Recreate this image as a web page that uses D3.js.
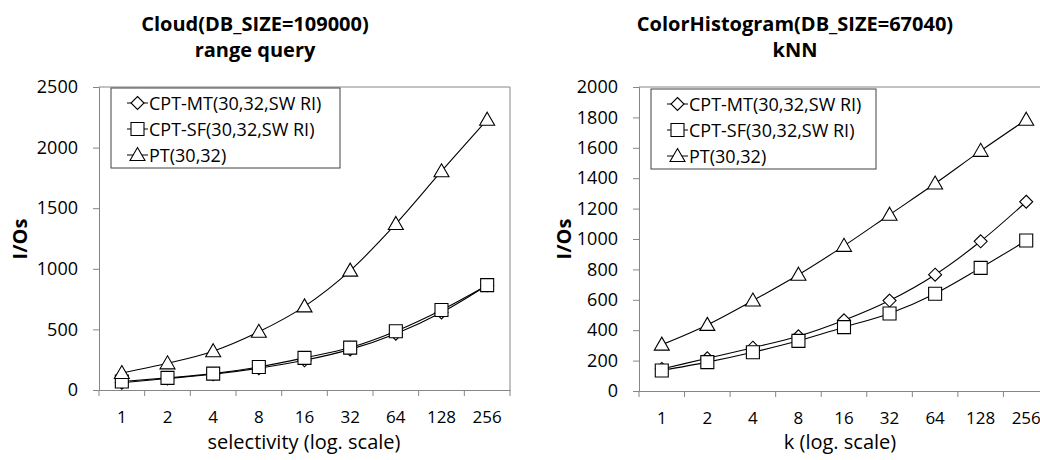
<!DOCTYPE html>
<html>
<head>
<meta charset="utf-8">
<script src="https://cdn.jsdelivr.net/npm/d3@7"></script>
<style>
  body { margin: 0; background: #fff; }
  svg { display: block; font-family: "Open Sans", sans-serif; }
</style>
</head>
<body>
<div id="chart"></div>
<script>
// x categories (log scale steps)
const categories = ['1', '2', '4', '8', '16', '32', '64', '128', '256'];
const seriesNames = ['CPT-MT(30,32,SW RI)', 'CPT-SF(30,32,SW RI)', 'PT(30,32)'];

// Cloud, range query
const cloudMT = [60, 95, 130, 180, 245, 335, 465, 640, 865];
const cloudSF = [70, 100, 135, 190, 265, 350, 485, 660, 865];
const cloudPT = [140, 220, 320, 480, 690, 985, 1370, 1805, 2230];
const cloudTicks = [0, 500, 1000, 1500, 2000, 2500];

// ColorHistogram, kNN
const colorMT = [145, 215, 285, 360, 465, 595, 765, 985, 1245];
const colorSF = [135, 190, 255, 330, 420, 510, 640, 810, 990];
const colorPT = [305, 435, 595, 765, 955, 1160, 1365, 1580, 1785];
const colorTicks = [0, 200, 400, 600, 800, 1000, 1200, 1400, 1600, 1800, 2000];

const width = 1040, height = 460;
const axisColor = '#868686';

const svg = d3.select('#chart').append('svg')
    .attr('width', width)
    .attr('height', height);

const markers = ['diamond', 'square', 'triangle'];

function drawMarker (g, type, cx, cy) {
    let path;
    if (type === 'diamond') {
        path = `M${cx},${cy - 6.5}L${cx + 6.5},${cy}L${cx},${cy + 6.5}L${cx - 6.5},${cy}Z`;
    } else if (type === 'square') {
        path = `M${cx - 6.5},${cy - 6.5}h13v13h-13Z`;
    } else {
        path = `M${cx},${cy - 7.5}L${cx + 7.5},${cy + 5.5}L${cx - 7.5},${cy + 5.5}Z`;
    }
    g.append('path')
        .attr('d', path)
        .attr('fill', '#fff')
        .attr('stroke', '#000')
        .attr('stroke-width', 1.1);
}

function drawChart (cfg) {
    const x = d3.scaleBand().domain(categories).range([cfg.left, cfg.right]).padding(0);
    const y = d3.scaleLinear().domain([0, cfg.yMax]).range([cfg.bottom, cfg.top]);
    const g = svg.append('g');

    // plot border (top/right)
    g.append('path')
        .attr('d', `M${cfg.left},${cfg.top}H${cfg.right}V${cfg.bottom}`)
        .attr('fill', 'none')
        .attr('stroke', axisColor)
        .attr('stroke-width', 1);

    // y axis
    const axisY = d3.axisLeft(y).tickValues(cfg.yTicks).tickFormat(d3.format('d'))
        .tickSize(6).tickPadding(15);
    const gy = g.append('g')
        .attr('transform', `translate(${cfg.left},0)`)
        .call(axisY);
    gy.select('.domain').attr('stroke', axisColor);
    gy.selectAll('.tick line').attr('stroke', axisColor);
    gy.selectAll('.tick text')
        .attr('font-size', 18)
        .attr('font-family', '"Open Sans", sans-serif')
        .attr('fill', '#000');

    // x axis: labels at band centres, ticks at band edges
    const axisX = d3.axisBottom(x).tickSize(0).tickPadding(21);
    const gx = g.append('g')
        .attr('transform', `translate(0,${cfg.bottom})`)
        .call(axisX);
    gx.select('.domain').attr('stroke', axisColor);
    gx.selectAll('.tick text')
        .attr('font-size', 17)
        .attr('font-family', '"Open Sans", sans-serif')
        .attr('fill', '#000');
    gx.selectAll('.edge')
        .data([cfg.left].concat(categories.slice(1).map(c => x(c)), [cfg.right]))
        .join('line')
        .attr('class', 'edge')
        .attr('x1', d => d).attr('x2', d => d)
        .attr('y1', 0).attr('y2', 6)
        .attr('stroke', axisColor);

    // series lines + markers
    const line = d3.line()
        .x((d, i) => x(categories[i]) + x.bandwidth() / 2)
        .y(d => y(d))
        .curve(d3.curveMonotoneX);
    cfg.series.forEach(values => {
        g.append('path')
            .datum(values)
            .attr('d', line)
            .attr('fill', 'none')
            .attr('stroke', '#000')
            .attr('stroke-width', 1.1);
    });
    cfg.series.forEach((values, s) => {
        const mg = g.append('g');
        values.forEach((v, i) => {
            drawMarker(mg, markers[s], x(categories[i]) + x.bandwidth() / 2, y(v));
        });
    });

    // titles
    g.append('text')
        .attr('x', cfg.titleX).attr('y', 31)
        .attr('text-anchor', 'middle')
        .attr('font-size', 20).attr('font-weight', 'bold')
        .text(cfg.title[0]);
    g.append('text')
        .attr('x', cfg.titleX).attr('y', 57)
        .attr('text-anchor', 'middle')
        .attr('font-size', 20).attr('font-weight', 'bold')
        .text(cfg.title[1]);

    // axis titles
    g.append('text')
        .attr('transform', `translate(${cfg.yTitleX},239) rotate(-90)`)
        .attr('text-anchor', 'middle')
        .attr('font-size', 20).attr('font-weight', 'bold')
        .text('I/Os');
    g.append('text')
        .attr('x', cfg.xTitleX).attr('y', 449)
        .attr('text-anchor', 'middle')
        .attr('font-size', 20)
        .text(cfg.xTitle);

    // legend
    const lg = g.append('g').attr('transform', `translate(${cfg.legendX},${cfg.legendY})`);
    lg.append('rect')
        .attr('x', 0).attr('y', 0)
        .attr('width', cfg.legendW).attr('height', 80)
        .attr('fill', '#fff')
        .attr('stroke', '#404040')
        .attr('stroke-width', 1);
    seriesNames.forEach((name, s) => {
        const ry = 15 + s * 26;
        lg.append('line')
            .attr('x1', 16).attr('x2', 37)
            .attr('y1', ry).attr('y2', ry)
            .attr('stroke', '#000');
        drawMarker(lg, markers[s], 26.5, ry);
        lg.append('text')
            .attr('x', 38).attr('y', ry + 6.5)
            .attr('font-size', 18)
            .text(name);
    });
}

drawChart({
    left: 99, right: 510, top: 87, bottom: 390,
    yMax: 2500, yTicks: cloudTicks,
    series: [cloudMT, cloudSF, cloudPT],
    title: ['Cloud(DB_SIZE=109000)', 'range query'], titleX: 255,
    xTitle: 'selectivity (log. scale)', xTitleX: 304, yTitleX: 27,
    legendX: 111, legendY: 88, legendW: 229
});

drawChart({
    left: 639, right: 1049, top: 87, bottom: 391,
    yMax: 2000, yTicks: colorTicks,
    series: [colorMT, colorSF, colorPT],
    title: ['ColorHistogram(DB_SIZE=67040)', 'kNN'], titleX: 795,
    xTitle: 'k (log. scale)', xTitleX: 840, yTitleX: 571,
    legendX: 651, legendY: 89, legendW: 225
});
</script>
</body>
</html>
